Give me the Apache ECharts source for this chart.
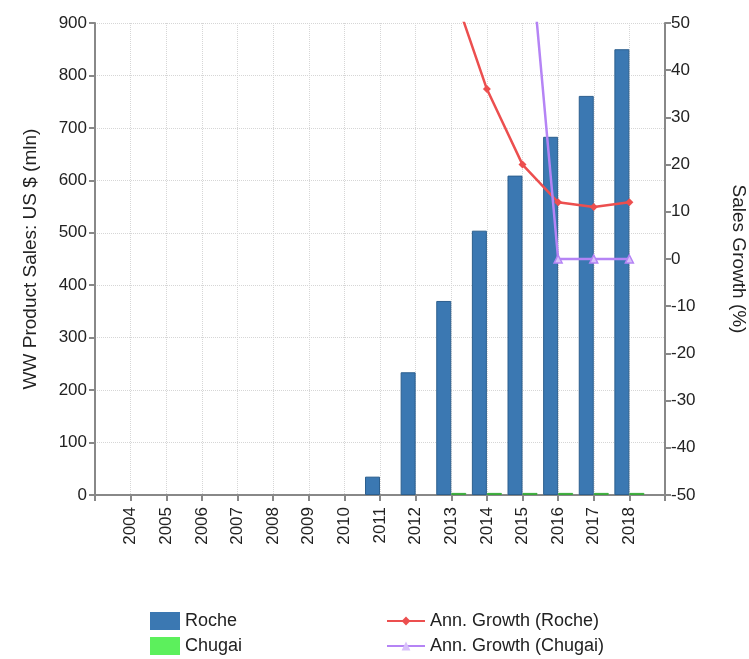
<!DOCTYPE html>
<html>
<head>
<meta charset="utf-8">
<script src="https://cdn.jsdelivr.net/npm/echarts@6/dist/echarts.min.js"></script>
<style>
  html, body { margin: 0; padding: 0; background: #fff; }
  #chart { width: 749px; height: 659px; }
</style>
</head>
<body>
<div id="chart"></div>
<script>
// years shown on the axis (padded with an empty slot at each end)
var years = ["2004", "2005", "2006", "2007", "2008", "2009", "2010", "2011",
  "2012", "2013", "2014", "2015", "2016", "2017", "2018"];

// product sales, US $ mln
var rocheSales = [null, null, null, null, null, null, null, 35, 234, 370, 504, 609, 683, 761, 850];
var chugaiSales = [null, null, null, null, null, null, null, null, null, 4, 4, 4, 4, 4, 4];

// annual growth, %
var rocheGrowth = [null, null, null, null, null, null, null, null, 568, 58, 36, 20, 12, 11, 12];
var chugaiGrowth = [null, null, null, null, null, null, null, null, null, null, null, 84, 0, 0, 0];

var salesTicks = [0, 900, 100];
var growthTicks = [-50, 50, 10];

function pad(arr) { return [null].concat(arr, [null]); }

var categories = [""].concat(years, [""]);
var font = "Liberation Sans, Arial, sans-serif";
var txt = "#222";

function legendItem(name, icon, left, top, w, h) {
  var item = { name: name };
  if (icon) item.icon = icon;
  return {
    data: [item],
    left: left,
    top: top,
    padding: 0,
    itemWidth: w,
    itemHeight: h,
    itemGap: 6,
    itemStyle: { borderWidth: 0 },
    textStyle: { fontSize: 18, color: txt, fontFamily: font }
  };
}

var chartDom = document.getElementById("chart");
var myChart = echarts.init(chartDom);
var option;

option = {
  animation: false,
  textStyle: { fontFamily: font },
  grid: { left: 95, right: 84, top: 23, bottom: 164, containLabel: false, outerBoundsMode: "none" },
  legend: [
    legendItem("Roche", "rect", 150, 612, 30, 18),
    legendItem("Chugai", "rect", 150, 637, 30, 18),
    legendItem("Ann. Growth (Roche)", null, 386, 612, 38, 11),
    legendItem("Ann. Growth (Chugai)", null, 386, 637, 38, 11)
  ],
  xAxis: {
    type: "category",
    data: categories,
    boundaryGap: false,
    axisLine: { lineStyle: { color: "#888", width: 2 } },
    axisTick: { show: true, length: 6, lineStyle: { color: "#888", width: 2 } },
    axisLabel: { rotate: 90, fontSize: 17, color: txt, margin: 12, fontFamily: font },
    splitLine: { show: true, lineStyle: { color: "#d6d6d6", type: "dotted", width: 1 } }
  },
  yAxis: [
    {
      type: "value",
      min: salesTicks[0],
      max: salesTicks[1],
      interval: salesTicks[2],
      name: "WW Product Sales: US $ (mln)",
      nameLocation: "middle",
      nameGap: 55,
      nameTextStyle: { fontSize: 19, color: txt, fontFamily: font },
      axisLine: { show: true, lineStyle: { color: "#888", width: 2 } },
      axisTick: { show: true, length: 6, lineStyle: { color: "#888", width: 2 } },
      axisLabel: { fontSize: 17, color: txt, margin: 8, fontFamily: font },
      splitLine: { show: true, lineStyle: { color: "#d6d6d6", type: "dotted", width: 1 } }
    },
    {
      type: "value",
      position: "right",
      min: growthTicks[0],
      max: growthTicks[1],
      interval: growthTicks[2],
      name: "Sales Growth (%)",
      nameLocation: "middle",
      nameRotate: -90,
      nameGap: 64,
      nameTextStyle: { fontSize: 19, color: txt, fontFamily: font },
      axisLine: { show: true, lineStyle: { color: "#888", width: 2 } },
      axisTick: { show: true, length: 6, lineStyle: { color: "#888", width: 2 } },
      axisLabel: { fontSize: 17, color: txt, margin: 6, fontFamily: font },
      splitLine: { show: false }
    }
  ],
  series: [
    {
      name: "Roche",
      type: "bar",
      data: pad(rocheSales),
      barWidth: 15,
      barGap: "0%",
      itemStyle: { color: "#3b78b2", borderColor: "#2c5f8e", borderWidth: 1 }
    },
    {
      name: "Chugai",
      type: "bar",
      data: pad(chugaiSales),
      barWidth: 15,
      itemStyle: { color: "#5cf05c", borderColor: "#3aa83a", borderWidth: 1 }
    },
    {
      name: "Ann. Growth (Roche)",
      type: "line",
      yAxisIndex: 1,
      data: pad(rocheGrowth),
      clip: true,
      symbol: "diamond",
      symbolSize: 8,
      lineStyle: { color: "#ec4f4f", width: 2.5 },
      itemStyle: { color: "#ec4f4f" }
    },
    {
      name: "Ann. Growth (Chugai)",
      type: "line",
      yAxisIndex: 1,
      data: pad(chugaiGrowth),
      clip: true,
      symbol: "triangle",
      symbolSize: 8,
      lineStyle: { color: "#b584f5", width: 2.5 },
      itemStyle: { color: "#d8c0fa", borderColor: "#b584f5", borderWidth: 1.5 }
    }
  ]
};

option && myChart.setOption(option);
</script>
</body>
</html>
